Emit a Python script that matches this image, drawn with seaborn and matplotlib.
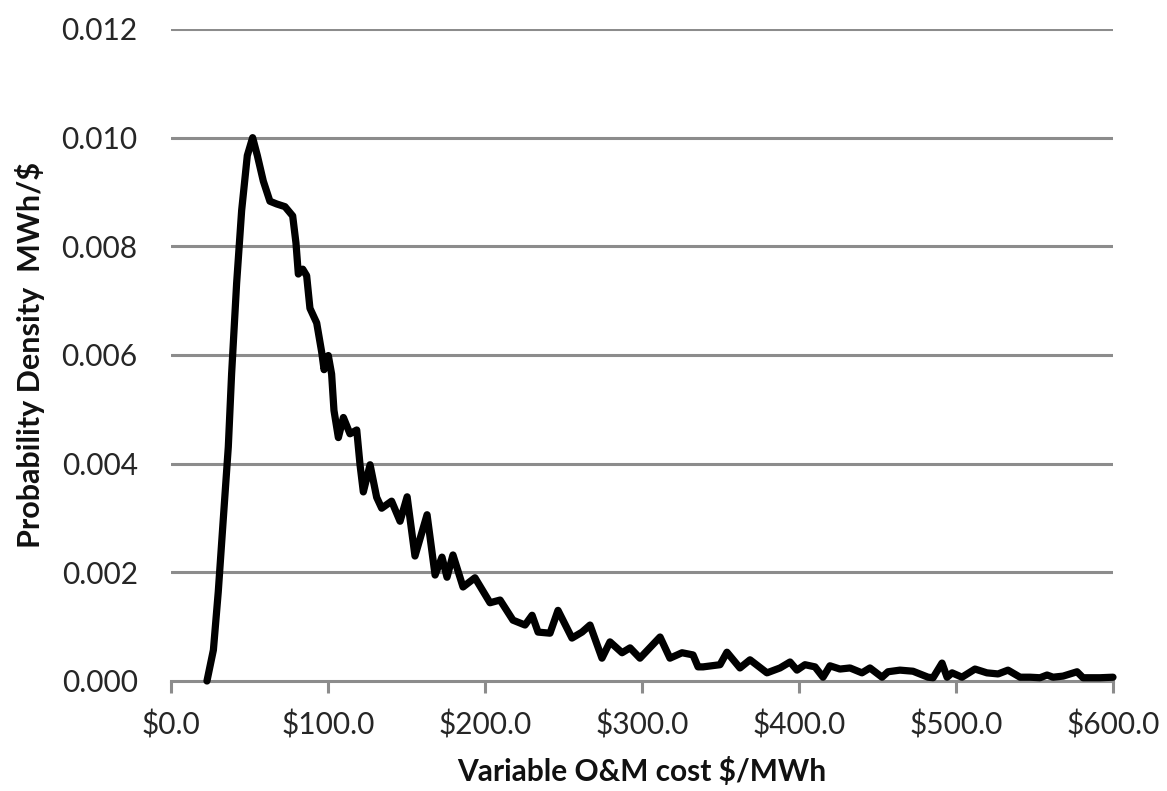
import matplotlib
matplotlib.use("Agg")
import matplotlib.pyplot as plt
import seaborn as sns
import pandas as pd
from matplotlib.ticker import FixedLocator

# Values
cost = [22.9, 27.0, 30.1, 33.3, 36.5, 38.6, 41.8, 45.0, 48.6, 52.0, 55.0, 58.8,
        63.0, 67.3, 72.6, 77.5, 79.6, 81.1, 83.9, 86.4, 88.5, 92.8, 96.0, 97.5,
        100.2, 102.3, 103.8, 106.6, 109.8, 114.0, 118.3, 120.4, 122.5, 126.8,
        131.0, 134.2, 140.5, 145.9, 150.4, 155.4, 163.1, 168.2, 172.6, 175.8,
        179.6, 186.0, 193.6, 203.2, 209.6, 217.8, 225.5, 230.0, 233.8, 241.4,
        246.5, 255.4, 261.8, 266.9, 274.5, 279.6, 287.3, 292.4, 298.7, 311.5,
        317.8, 325.5, 332.5, 335.7, 338.9, 349.7, 354.1, 362.4, 368.8, 379.6,
        387.9, 394.3, 398.7, 403.8, 410.2, 415.3, 419.7, 426.1, 432.5, 440.1,
        445.2, 452.9, 456.7, 464.3, 472.6, 482.2, 485.4, 491.1, 494.3, 497.5,
        503.8, 512.1, 519.7, 526.8, 533.1, 540.8, 547.1, 553.5, 558.0, 561.8,
        568.2, 577.1, 580.9, 591.7, 600.0]
density = [0.00000, 0.00057, 0.00164, 0.00298, 0.00431, 0.00565, 0.00732, 0.00866,
           0.00967, 0.01000, 0.00967, 0.00920, 0.00883, 0.00878, 0.00873, 0.00856,
           0.00806, 0.00749, 0.00758, 0.00746, 0.00686, 0.00659, 0.00605, 0.00573,
           0.00599, 0.00565, 0.00498, 0.00448, 0.00485, 0.00455, 0.00462, 0.00398,
           0.00348, 0.00398, 0.00338, 0.00318, 0.00331, 0.00294, 0.00339, 0.00230,
           0.00306, 0.00195, 0.00228, 0.00191, 0.00232, 0.00173, 0.00190, 0.00144,
           0.00149, 0.00112, 0.00103, 0.00121, 0.00090, 0.00088, 0.00130, 0.00079,
           0.00090, 0.00103, 0.00042, 0.00072, 0.00052, 0.00061, 0.00042, 0.00081,
           0.00042, 0.00052, 0.00048, 0.00026, 0.00026, 0.00030, 0.00053, 0.00024,
           0.00039, 0.00015, 0.00024, 0.00035, 0.00020, 0.00030, 0.00026, 0.00007,
           0.00028, 0.00022, 0.00024, 0.00015, 0.00024, 0.00007, 0.00017, 0.00020,
           0.00018, 0.00007, 0.00006, 0.00033, 0.00007, 0.00015, 0.00007, 0.00022,
           0.00015, 0.00013, 0.00020, 0.00007, 0.00007, 0.00006, 0.00011, 0.00007,
           0.00009, 0.00017, 0.00006, 0.00006, 0.00007]
x_ticks = [0, 100, 200, 300, 400, 500, 600]
x_tick_labels = ["$0.0", "$100.0", "$200.0", "$300.0", "$400.0", "$500.0", "$600.0"]
y_ticks = [0.000, 0.002, 0.004, 0.006, 0.008, 0.010, 0.012]
y_tick_labels = ["0.000", "0.002", "0.004", "0.006", "0.008", "0.010", "0.012"]

df = pd.DataFrame({"cost": cost, "density": density})

sns.set_style("white")
plt.rcParams["font.family"] = ["Lato", "DejaVu Sans"]

fig = plt.figure(figsize=(11.67, 7.91), dpi=100)
ax = fig.add_axes([171 / 1167, 1 - 681 / 791, (1113 - 171) / 1167, (681 - 29) / 791])

grid_col = "#8c8c8c"
for yv in y_ticks[1:]:
    ax.axhline(yv, color=grid_col, lw=2.2, zorder=1)

sns.lineplot(data=df, x="cost", y="density", ax=ax, color="black", lw=5.2,
             solid_joinstyle="round", solid_capstyle="round", zorder=3, clip_on=False)

ax.set_xlim(0, 600)
ax.set_ylim(0, 0.012)
ax.xaxis.set_major_locator(FixedLocator(x_ticks))
ax.set_xticklabels(x_tick_labels)
ax.yaxis.set_major_locator(FixedLocator(y_ticks))
ax.set_yticklabels(y_tick_labels)

for s in ["top", "right", "left"]:
    ax.spines[s].set_visible(False)
ax.spines["bottom"].set_color(grid_col)
ax.spines["bottom"].set_linewidth(2.2)
ax.spines["bottom"].set_zorder(2)

txt_col = "#262626"
ax.tick_params(axis="x", direction="out", length=8.5, width=2.2, color=grid_col,
               labelsize=21.5, labelcolor=txt_col, pad=13, bottom=True)
ax.tick_params(axis="y", length=0, labelsize=21.5, labelcolor=txt_col, pad=24, left=False)

ax.set_xlabel("Variable O&M cost $/MWh", fontsize=21.5, fontweight="bold", color="#111111", labelpad=12)
ax.set_ylabel("Probability Density  MWh/$", fontsize=22, fontweight="bold", color="#111111", labelpad=12)

fig.savefig("out.png", dpi=100)
